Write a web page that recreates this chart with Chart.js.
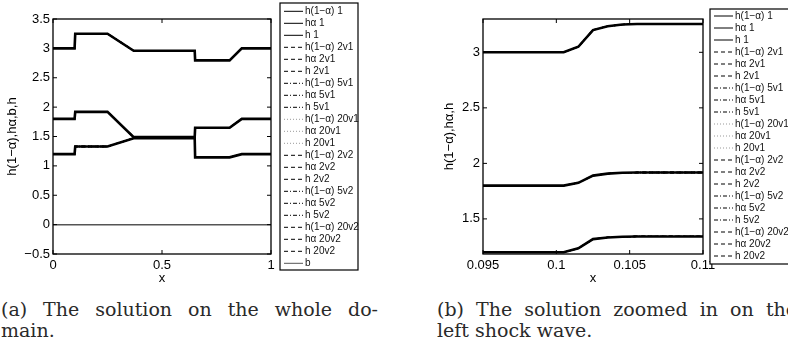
<!DOCTYPE html>
<html>
<head>
<meta charset="utf-8">
<script src="https://cdn.jsdelivr.net/npm/chart.js@4.4.1/dist/chart.umd.min.js"></script>
<style>
  body { margin: 0; width: 788px; height: 352px; overflow: hidden; background: #fff; position: relative; }
  .panel { position: absolute; top: 0; width: 394px; height: 290px; }
  .caption { position: absolute; font-family: 'DejaVu Serif', serif; font-size: 19px; line-height: 21px; color: #2a2a2a; white-space: nowrap; }
  .just { text-align: justify; text-align-last: justify; }
</style>
</head>
<body>
<div class="panel" style="left:0"><canvas id="whole" width="394" height="290"></canvas></div>
<div class="panel" style="left:394px"><canvas id="shock" width="394" height="290"></canvas></div>
<div class="caption just" style="left:1px; top:299px; width:377px">(a) The solution on the whole do-</div>
<div class="caption" style="left:1px; top:320px">main.</div>
<div class="caption just" style="left:437px; top:299px; width:360px">(b) The solution zoomed in on the</div>
<div class="caption" style="left:437px; top:320px">left shock wave.</div>
<script>
// whole domain, piecewise linear profiles
const xWhole = [0, 0.099, 0.102, 0.25, 0.37, 0.65, 0.652, 0.81, 0.866, 1];
const hOneMinusAlphaWhole = [1.8, 1.8, 1.92, 1.92, 1.49, 1.49, 1.65, 1.65, 1.8, 1.8];
const hAlphaWhole = [1.2, 1.2, 1.33, 1.33, 1.47, 1.47, 1.145, 1.145, 1.2, 1.2];
const hWhole = [3.0, 3.0, 3.25, 3.25, 2.96, 2.96, 2.795, 2.795, 3.0, 3.0];
const xBottom = [0, 1];
const bottomB = [0, 0];

// left shock wave, zoomed
const xShock = [0.095, 0.1005, 0.1015, 0.1025, 0.1035, 0.1045, 0.1055, 0.11];
const hOneMinusAlphaShock = [1.8, 1.8, 1.825, 1.89, 1.908, 1.915, 1.918, 1.918];
const hAlphaShock = [1.2, 1.2, 1.235, 1.318, 1.333, 1.34, 1.342, 1.342];
const hShock = [3.0, 3.0, 3.05, 3.2, 3.235, 3.25, 3.255, 3.255];

const runs = ['1', '2v1', '5v1', '20v1', '2v2', '5v2', '20v2'];
const quantities = ['h(1−α)', 'hα', 'h'];

const xTicksWhole = [0, 0.5, 1];
const yTicksWhole = [-0.5, 0, 0.5, 1, 1.5, 2, 2.5, 3, 3.5];
const xTicksShock = [0.095, 0.1, 0.105, 0.11];
const yTicksShock = [1.5, 2, 2.5, 3];

const runStyle = {
  '1':    { dash: [],           color: '#000', width: 2.6 },
  '2v1':  { dash: [4, 3],       color: '#000', width: 1.3 },
  '5v1':  { dash: [4, 2, 1, 2], color: '#000', width: 1.3 },
  '20v1': { dash: [1, 2],       color: '#999', width: 1.2 },
  '2v2':  { dash: [4, 3],       color: '#000', width: 1.3 },
  '5v2':  { dash: [4, 2, 1, 2], color: '#000', width: 1.3 },
  '20v2': { dash: [4, 3],       color: '#000', width: 1.3 }
};

const FONT = "'Liberation Sans', Arial, sans-serif";
Chart.defaults.color = '#000';
Chart.defaults.font.family = FONT;

function points(xs, ys) {
  return xs.map((x, i) => ({ x: x, y: ys[i] }));
}

function runDatasets(xs, series) {
  const sets = [];
  runs.forEach(run => {
    const st = runStyle[run];
    series.forEach((ys, k) => {
      sets.push({
        label: quantities[k] + ' ' + run,
        data: points(xs, ys),
        borderColor: st.color,
        borderWidth: st.width,
        borderDash: st.dash
      });
    });
  });
  return sets;
}

// MATLAB style box with inward ticks, plus a boxed legend on the right
const frame = {
  id: 'frame',
  afterDatasetsDraw(chart) {
    const { ctx, chartArea: a, scales: { x, y } } = chart;
    ctx.save();
    ctx.strokeStyle = '#000';
    ctx.lineWidth = 1.3;
    ctx.setLineDash([]);
    ctx.strokeRect(a.left, a.top, a.width, a.height);
    ctx.lineWidth = 1;
    ctx.beginPath();
    x.ticks.forEach(t => {
      const px = x.getPixelForValue(t.value);
      ctx.moveTo(px, a.bottom); ctx.lineTo(px, a.bottom - 4);
      ctx.moveTo(px, a.top); ctx.lineTo(px, a.top + 4);
    });
    y.ticks.forEach(t => {
      const py = y.getPixelForValue(t.value);
      ctx.moveTo(a.left, py); ctx.lineTo(a.left + 4, py);
      ctx.moveTo(a.right, py); ctx.lineTo(a.right - 4, py);
    });
    ctx.stroke();
    ctx.restore();
  },
  afterDraw(chart, args, opts) {
    const { ctx } = chart;
    ctx.save();
    ctx.fillStyle = '#fff';
    ctx.fillRect(opts.left, opts.top, opts.width, opts.height);
    ctx.strokeStyle = '#000';
    ctx.lineWidth = 1.2;
    ctx.strokeRect(opts.left, opts.top, opts.width, opts.height);
    ctx.font = '10px ' + FONT;
    ctx.textBaseline = 'middle';
    chart.data.datasets.forEach((ds, i) => {
      const cy = opts.rowStart + i * opts.rowGap;
      const x0 = opts.left + 4;
      ctx.strokeStyle = ds.borderColor;
      ctx.lineWidth = 1;
      ctx.setLineDash(ds.borderDash || []);
      ctx.beginPath();
      ctx.moveTo(x0, cy);
      ctx.lineTo(x0 + 19, cy);
      ctx.stroke();
      ctx.setLineDash([]);
      ctx.fillStyle = '#111';
      ctx.fillText(ds.label, x0 + 21, cy);
    });
    ctx.restore();
  }
};

function options(cfg) {
  return {
    responsive: false,
    animation: false,
    devicePixelRatio: 1,
    layout: { padding: cfg.padding },
    elements: { point: { radius: 0 }, line: { tension: 0 } },
    plugins: { legend: { display: false }, tooltip: { enabled: false }, frame: cfg.legend },
    scales: {
      x: {
        type: 'linear', min: cfg.xMin, max: cfg.xMax,
        grid: { display: false, drawTicks: false }, border: { display: false },
        ticks: { font: { size: 13 }, padding: 4, maxRotation: 0, autoSkip: false, callback: cfg.fmt },
        title: { display: true, text: 'x', font: { size: 13 }, padding: { top: 0, bottom: 4 } },
        afterBuildTicks: s => { s.ticks = cfg.xTicks.map(v => ({ value: v })); },
        afterFit: s => { s.height = 36; }
      },
      y: {
        type: 'linear', min: cfg.yMin, max: cfg.yMax,
        grid: { display: false, drawTicks: false }, border: { display: false },
        ticks: { font: { size: 13 }, padding: 3, autoSkip: false, callback: cfg.fmt },
        title: { display: true, text: cfg.yTitle, font: { size: 13 }, padding: { top: cfg.yTitlePad, bottom: 0 } },
        afterBuildTicks: s => { s.ticks = cfg.yTicks.map(v => ({ value: v })); },
        afterFit: s => { s.width = cfg.yWidth; }
      }
    }
  };
}

const fmt = v => String(+Number(v).toFixed(4)).replace('-', '−');

const wholeSets = runDatasets(xWhole, [hOneMinusAlphaWhole, hAlphaWhole, hWhole]);
wholeSets.push({ label: 'b', data: points(xBottom, bottomB), borderColor: '#555', borderWidth: 1.5, borderDash: [] });

new Chart(document.getElementById('whole'), {
  type: 'line',
  data: { datasets: wholeSets },
  options: options({
    padding: { left: 0, top: 19, right: 123, bottom: 0 },
    xMin: 0, xMax: 1, yMin: -0.5, yMax: 3.5,
    xTicks: xTicksWhole, yTicks: yTicksWhole,
    yTitle: 'h(1−α),hα,b,h', yTitlePad: 5, yWidth: 53, fmt: fmt,
    legend: { left: 280, top: 3, width: 78, height: 267, rowStart: 11.3, rowGap: 12 }
  }),
  plugins: [frame]
});

new Chart(document.getElementById('shock'), {
  type: 'line',
  data: { datasets: runDatasets(xShock, [hOneMinusAlphaShock, hAlphaShock, hShock]) },
  options: options({
    padding: { left: 0, top: 19, right: 85, bottom: 0 },
    xMin: 0.095, xMax: 0.11, yMin: 1.184, yMax: 3.3,
    xTicks: xTicksShock, yTicks: yTicksShock,
    yTitle: 'h(1−α),hα,h', yTitlePad: 48, yWidth: 89, fmt: fmt,
    legend: { left: 316, top: 9, width: 82, height: 255, rowStart: 16, rowGap: 12 }
  }),
  plugins: [frame]
});
</script>
</body>
</html>
